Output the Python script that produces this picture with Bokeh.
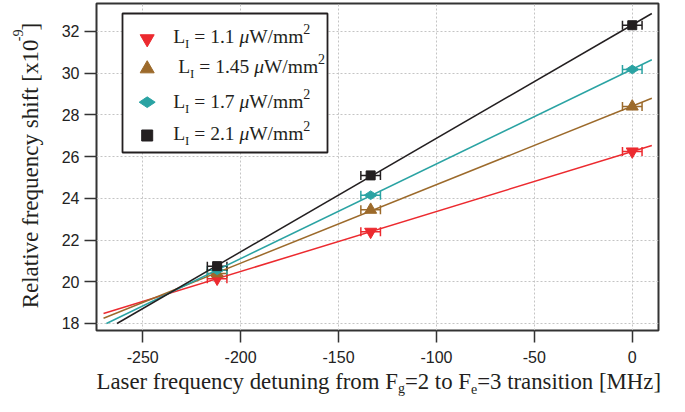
import numpy as np
from bokeh.plotting import figure
from bokeh.layouts import row, column
from bokeh.models import Range1d, FixedTicker, Whisker, TeeHead, ColumnDataSource
from bokeh.core.properties import value
from bokeh.embed import file_html
from bokeh.resources import INLINE

# ---------------- data ----------------
detuning = [-212.0, -133.6, 0.0]            # MHz
detuning_err = [5.0, 5.0, 5.0]              # MHz
shift_11 = [20.15, 22.40, 26.25]            # x1e-9, L_I = 1.1
shift_145 = [20.40, 23.45, 28.40]           # L_I = 1.45
shift_17 = [20.55, 24.15, 30.18]            # L_I = 1.7
shift_21 = [20.75, 25.10, 32.30]            # L_I = 2.1
intensities = ["1.1", "1.45", "1.7", "2.1"]
fit_x_span = [-270.0, 10.0]
fit_y_floor = 18.0

x_ticks = [-250, -200, -150, -100, -50, 0]
x_tick_labels = ["-250", "-200", "-150", "-100", "-50", "0"]
y_ticks = [18, 20, 22, 24, 26, 28, 30, 32]
y_tick_labels = ["18", "20", "22", "24", "26", "28", "30", "32"]

series = [
    (shift_11, "#ec2a2f", "inverted_triangle", 12, 0.0, 14),
    (shift_145, "#9c6a2b", "triangle", 12, 0.0, 14),
    (shift_17, "#2aa3a3", "diamond", 13, np.pi / 2, 16),
    (shift_21, "#231f20", "square", 9, 0.0, 11),
]

# ---------------- layout (page pixels) ----------------
TOTAL_W, TOTAL_H = 669, 396
YLAB_W = 45                       # left strip holding the y title
MAIN_H = 370                      # main figure height
FRAME_L, FRAME_R, FRAME_T, FRAME_B = 96, 658, 3, 330
MAIN_W = TOTAL_W - YLAB_W
ML = FRAME_L - YLAB_W
MR = MAIN_W - (FRAME_R - YLAB_W)
MT = FRAME_T
MB = MAIN_H - FRAME_B
FW, FH = FRAME_R - FRAME_L, FRAME_B - FRAME_T
X0, X1 = -273.6, 13.4
Y0, Y1 = 17.664, 33.342

def dx(px):
    return X0 + (px - FRAME_L) / FW * (X1 - X0)

def dy(py):
    return Y1 - (py - FRAME_T) / FH * (Y1 - Y0)

p = figure(width=MAIN_W, height=MAIN_H, output_backend="svg", toolbar_location=None,
           x_range=Range1d(X0, X1), y_range=Range1d(Y0, Y1),
           min_border_left=ML, min_border_right=MR, min_border_top=MT, min_border_bottom=MB)
p.background_fill_color = "white"
p.border_fill_color = "white"
p.outline_line_color = "#333333"
p.outline_line_width = 2

p.xaxis.ticker = FixedTicker(ticks=x_ticks)
p.yaxis.ticker = FixedTicker(ticks=y_ticks)
p.xaxis.major_label_overrides = {t: s for t, s in zip(x_ticks, x_tick_labels)}
p.yaxis.major_label_overrides = {t: s for t, s in zip(y_ticks, y_tick_labels)}
for ax in (p.xaxis, p.yaxis):
    ax.axis_line_color = None
    ax.major_tick_out = 12
    ax.major_tick_in = 0
    ax.major_tick_line_width = 1.5
    ax.major_tick_line_color = "#333333"
    ax.minor_tick_line_color = None
    ax.major_label_text_font = "Liberation Sans"
    ax.major_label_text_font_size = "16px"
    ax.major_label_text_color = "#222222"
p.xaxis.major_label_standoff = 8
p.yaxis.major_label_standoff = 5

p.grid.grid_line_color = "#c4c4c4"
p.grid.grid_line_dash = "2 2"
p.grid.grid_line_width = 1

# fit lines, markers, error bars
for ys, col, mk, sz, ang, lsz in series:
    m, b = np.polyfit(detuning, ys, 1)
    xs = max(fit_x_span[0], (fit_y_floor - b) / m)
    xe = fit_x_span[1]
    p.line([xs, xe], [m * xs + b, m * xe + b], line_color=col, line_width=1.5)

for ys, col, mk, sz, ang, lsz in series:
    p.scatter(detuning, ys, marker=mk, size=sz, angle=ang, fill_color=col, line_color=col)
    src = ColumnDataSource(dict(base=ys,
                                lower=[x - e for x, e in zip(detuning, detuning_err)],
                                upper=[x + e for x, e in zip(detuning, detuning_err)]))
    p.add_layout(Whisker(source=src, base="base", lower="lower", upper="upper",
                         dimension="width", line_color=col, line_width=1.5,
                         upper_head=TeeHead(size=9, line_color=col, line_width=1.5),
                         lower_head=TeeHead(size=9, line_color=col, line_width=1.5)))

# ---------------- text helpers ----------------
TW = {' ': .25, '=': .564, '.': .25, '-': .333, '/': .278, '[': .333, ']': .333,
      'μ': .5, 'F': .556, 'H': .722, 'I': .333, 'L': .611, 'M': .889, 'R': .667, 'W': .944,
      'a': .444, 'b': .5, 'c': .444, 'd': .5, 'e': .444, 'f': .333, 'g': .5, 'h': .5,
      'i': .278, 'j': .278, 'k': .5, 'l': .278, 'm': .778, 'n': .5, 'o': .5, 'p': .5,
      'q': .5, 'r': .333, 's': .389, 't': .278, 'u': .5, 'v': .5, 'w': .722, 'x': .5,
      'y': .5, 'z': .444}

def tw(s, size):
    return sum(TW.get(c, .5) for c in s) * size

SERIF = "Liberation Serif"
TXT = "#231f20"
BASE_K = 0.35   # rendered baseline sits this many ems below the anchor
ROT_K = 0.13    # rotated texts come out shifted along their direction by this share of their width

def place(fig, fx, fy, pieces, start, base, rotated=False):
    pos = start
    for txt, size, shift, style in pieces:
        lead = tw(txt[:len(txt) - len(txt.lstrip())], size)
        core = txt.strip()
        up = shift + BASE_K * size
        if core:
            if rotated:
                gx, gy, ang = fx(base - up), fy(pos - lead + ROT_K * tw(core, size)), np.pi / 2
            else:
                gx, gy, ang = fx(pos + lead), fy(base - up), 0.0
            kw = dict(text_font=value(SERIF), text_font_size=value(f"{size}px"),
                      text_color=TXT, text_align="left", text_baseline="alphabetic")
            if style == "italic":
                kw["text_font_style"] = "italic"
            fig.text(x=[gx], y=[gy], text=[core], angle=ang, **kw)
        pos = pos - tw(txt, size) if rotated else pos + tw(txt, size)

def text_fig(w, h):
    f = figure(width=w, height=h, output_backend="svg", toolbar_location=None,
               x_range=Range1d(0, w), y_range=Range1d(0, h),
               x_axis_type=None, y_axis_type=None,
               min_border_left=0, min_border_right=0, min_border_top=0, min_border_bottom=0)
    f.outline_line_color = None
    f.grid.visible = False
    f.background_fill_color = "white"
    f.border_fill_color = "white"
    return f

ident = lambda v: v

# y title strip
yfig = text_fig(YLAB_W, MAIN_H)
place(yfig, ident, lambda py: MAIN_H - py,
      [("Relative frequency shift [x10", 23, 0, "normal"),
       ("-9", 14, 16.5, "normal"),
       ("]", 23, 0, "normal")], 310, 38.5, rotated=True)

# x title strip
XT_H = TOTAL_H - MAIN_H
xfig = text_fig(TOTAL_W, XT_H)
place(xfig, ident, lambda py: TOTAL_H - py,
      [("Laser frequency detuning from F", 22.8, 0, "normal"),
       ("g", 14, -4, "normal"),
       ("=2 to F", 22.8, 0, "normal"),
       ("e", 14, -4, "normal"),
       ("=3 transition [MHz]", 22.8, 0, "normal")], 96, 389)

# ---------------- legend ----------------
p.quad(left=[dx(122)], right=[dx(327)], top=[dy(13)], bottom=[dy(152)],
       fill_color="white", line_color="#231f20", line_width=1.8)
leg_marker_y = [38.3, 68.3, 101.7, 135.0]
leg_text_pos = [(172.7, 42.7), (177.7, 73.3), (172.7, 108.3), (172.7, 140.0)]
for (ys, col, mk, sz, ang, lsz), my, (tx, ty), val in zip(series, leg_marker_y, leg_text_pos, intensities):
    p.scatter([dx(146.7)], [dy(my)], marker=mk, size=lsz, angle=ang, fill_color=col, line_color=col)
    place(p, dx, dy,
          [("L", 19.5, 0, "normal"),
           ("I", 13, -4.6, "normal"),
           (" = " + val + " ", 19.5, 0, "normal"),
           ("μ", 19.5, 0, "italic"),
           ("W/mm", 19.5, 0, "normal"),
           ("2", 14, 9.7, "normal")], tx, ty)

layout = column(row(yfig, p, spacing=0), xfig, spacing=0)
open("out.html", "w").write(file_html(layout, INLINE))
